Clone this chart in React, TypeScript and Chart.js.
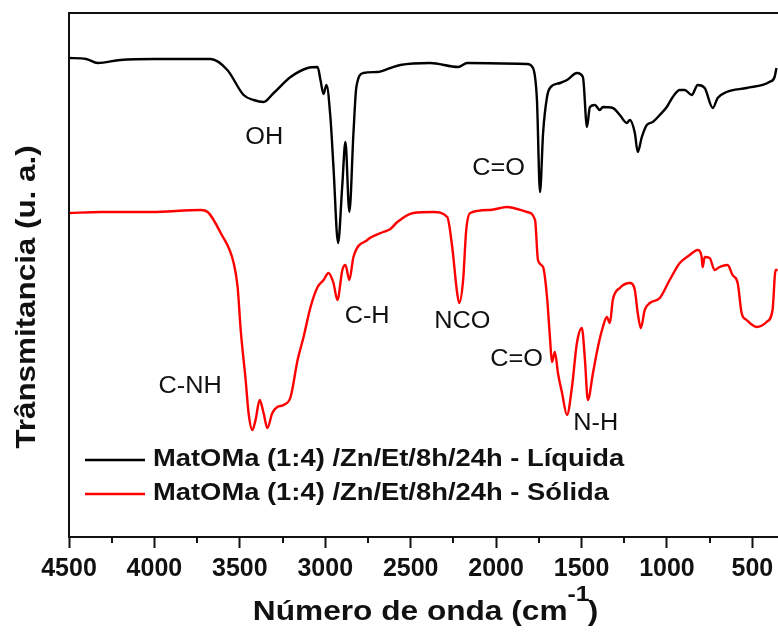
import React, { useEffect, useRef } from 'react';
import { Chart, registerables } from 'chart.js';

Chart.register(...registerables);

// ---------- data (wavenumber in cm-1, transmittance in arbitrary units) ----------
const LIQ_LABEL = 'MatOMa (1:4) /Zn/Et/8h/24h - Líquida';
const LIQ_WN = [4500, 4400, 4332, 4200, 4000, 3800, 3671, 3573, 3478, 3419, 3361, 3302, 3203, 3103, 3045, 3028, 3010, 2993, 2970, 2952, 2925, 2901, 2882, 2859, 2835, 2818, 2777, 2695, 2619, 2561, 2386, 2222, 2169, 1819, 1784, 1761, 1743, 1725, 1702, 1685, 1626, 1585, 1527, 1492, 1468, 1451, 1422, 1393, 1375, 1317, 1276, 1235, 1217, 1188, 1171, 1147, 1118, 1083, 1042, 1001, 966, 925, 896, 855, 820, 779, 732, 703, 651, 534, 400, 370, 359];
const LIQ_T = [479, 478, 474, 477, 478, 478, 478, 467, 442, 437, 435, 444, 460, 469, 470, 457, 443, 452, 420, 370, 294, 350, 395, 325, 404, 450, 464, 465, 469, 472, 474, 470, 474, 473, 469, 437, 345, 404, 440, 449, 454, 457, 464, 460, 410, 430, 432, 427, 430, 429, 422, 414, 417, 404, 385, 400, 412, 415, 422, 430, 440, 447, 447, 442, 452, 449, 429, 439, 445, 449, 455, 460, 469];

const SOL_LABEL = 'MatOMa (1:4) /Zn/Et/8h/24h - Sólida';
const SOL_WN = [4500, 4313, 4021, 3729, 3688, 3612, 3536, 3513, 3495, 3466, 3449, 3427, 3408, 3384, 3361, 3339, 3310, 3281, 3244, 3203, 3162, 3127, 3086, 3045, 3010, 2981, 2952, 2929, 2900, 2882, 2859, 2835, 2754, 2660, 2619, 2578, 2485, 2368, 2286, 2257, 2228, 2216, 2193, 2175, 2152, 2035, 1936, 1819, 1772, 1755, 1725, 1702, 1685, 1673, 1656, 1638, 1614, 1585, 1556, 1527, 1498, 1480, 1463, 1433, 1404, 1375, 1352, 1334, 1317, 1276, 1217, 1188, 1171, 1153, 1130, 1100, 1042, 984, 925, 867, 820, 797, 791, 779, 750, 721, 692, 645, 616, 586, 563, 534, 475, 417, 382, 364, 352];
const SOL_T = [324, 325, 325, 327, 325, 304, 274, 250, 207, 157, 124, 107, 117, 137, 124, 109, 124, 130, 132, 140, 177, 200, 230, 250, 257, 264, 254, 237, 267, 272, 257, 280, 297, 305, 308, 315, 324, 325, 320, 290, 244, 234, 257, 307, 324, 327, 330, 325, 317, 277, 270, 240, 200, 175, 185, 164, 144, 122, 150, 194, 209, 177, 137, 164, 190, 210, 220, 214, 237, 249, 254, 247, 224, 209, 227, 234, 239, 257, 274, 282, 287, 280, 270, 280, 279, 267, 270, 272, 262, 254, 224, 217, 210, 215, 227, 267, 267];

const X_MIN = 350;
const X_MAX = 4500;
const Y_MIN = 0;
const Y_MAX = 524;
const X_TICKS = [4500, 4250, 4000, 3750, 3500, 3250, 3000, 2750, 2500, 2250, 2000, 1750, 1500, 1250, 1000, 750, 500];
const X_LABEL_STEP = 500;

// peak labels, anchored in data coordinates
const PEAK_TEXT = ['OH', 'C=O', 'C-H', 'C-NH', 'NCO', 'C=O', 'N-H'];
const PEAK_WN = [3357, 1985, 2755, 3791, 2198, 1880, 1417];
const PEAK_T = [399, 368, 220, 150, 215, 177, 113];

const X_TITLE_MAIN = 'Número de onda (cm';
const X_TITLE_SUP = '-1';
const X_TITLE_END = ')';
const Y_TITLE = 'Trânsmitancia (u. a.)';

const FONT = '"Liberation Sans", Arial, Helvetica, sans-serif';

function drawStretched(
  ctx: CanvasRenderingContext2D,
  text: string,
  x: number,
  y: number,
  font: string,
  sx: number,
  align: 'left' | 'center',
  baseline: CanvasTextBaseline
) {
  ctx.save();
  ctx.font = font;
  ctx.textAlign = 'left';
  ctx.textBaseline = baseline;
  const w = ctx.measureText(text).width * sx;
  const x0 = align === 'center' ? x - w / 2 : x;
  ctx.translate(x0, y);
  ctx.scale(sx, 1);
  ctx.fillText(text, 0, 0);
  ctx.restore();
  return w;
}

const decorPlugin = {
  id: 'decor',
  afterDatasetsDraw(chart: any) {
    const ctx: CanvasRenderingContext2D = chart.ctx;
    const { left, right, top, bottom } = chart.chartArea;
    const xs = chart.scales.x;
    const ys = chart.scales.y;
    ctx.save();
    ctx.fillStyle = '#111';
    ctx.strokeStyle = '#111';

    // frame (top, left, bottom)
    ctx.lineWidth = 2;
    ctx.beginPath();
    ctx.moveTo(right + 2, top);
    ctx.lineTo(left, top);
    ctx.lineTo(left, bottom);
    ctx.lineTo(right + 2, bottom);
    ctx.stroke();

    // minor ticks
    ctx.lineWidth = 2;
    X_TICKS.forEach((v) => {
      if (v % X_LABEL_STEP === 0) return;
      const px = Math.round(xs.getPixelForValue(v));
      ctx.beginPath();
      ctx.moveTo(px, bottom);
      ctx.lineTo(px, bottom + 6);
      ctx.stroke();
    });

    // peak labels
    PEAK_TEXT.forEach((t, i) => {
      drawStretched(ctx, t, xs.getPixelForValue(PEAK_WN[i]), ys.getPixelForValue(PEAK_T[i]), `23px ${FONT}`, 1.1, 'center', 'middle');
    });

    // legend
    const legendRows = [
      { label: chart.data.datasets[0].label, color: chart.data.datasets[0].borderColor, y: 459 },
      { label: chart.data.datasets[1].label, color: chart.data.datasets[1].borderColor, y: 493 },
    ];
    legendRows.forEach((r) => {
      ctx.strokeStyle = r.color;
      ctx.lineWidth = 2.4;
      ctx.beginPath();
      ctx.moveTo(85, r.y + 1);
      ctx.lineTo(145, r.y + 1);
      ctx.stroke();
      ctx.fillStyle = '#111';
      drawStretched(ctx, r.label, 153, r.y, `bold 24px ${FONT}`, 1.14, 'left', 'middle');
    });

    // x title with superscript
    ctx.fillStyle = '#111';
    ctx.font = `bold 28px ${FONT}`;
    const sx = 1.13;
    const wMain = ctx.measureText(X_TITLE_MAIN).width * sx;
    const wEnd = ctx.measureText(X_TITLE_END).width * sx;
    ctx.font = `bold 22px ${FONT}`;
    const wSup = ctx.measureText(X_TITLE_SUP).width * sx;
    const total = wMain + wSup + wEnd;
    let cx = (left + right) / 2 + 3 - total / 2;
    const base = 620;
    cx += drawStretched(ctx, X_TITLE_MAIN, cx, base, `bold 28px ${FONT}`, sx, 'left', 'alphabetic');
    cx += drawStretched(ctx, X_TITLE_SUP, cx, base - 19, `bold 22px ${FONT}`, sx, 'left', 'alphabetic') - 2;
    drawStretched(ctx, X_TITLE_END, cx, base, `bold 28px ${FONT}`, sx, 'left', 'alphabetic');

    // y title (rotated)
    ctx.save();
    ctx.translate(35, 297);
    ctx.rotate(-Math.PI / 2);
    drawStretched(ctx, Y_TITLE, 0, 0, `bold 28px ${FONT}`, 1.12, 'center', 'alphabetic');
    ctx.restore();

    ctx.restore();
  },
};

export default function App() {
  const canvasRef = useRef<HTMLCanvasElement | null>(null);

  useEffect(() => {
    if (!canvasRef.current) return;
    const toPoints = (xs: number[], ys: number[]) => xs.map((x, i) => ({ x, y: ys[i] }));
    const chart = new Chart(canvasRef.current, {
      type: 'line',
      data: {
        datasets: [
          {
            label: LIQ_LABEL,
            data: toPoints(LIQ_WN, LIQ_T),
            borderColor: '#000000',
            borderWidth: 2.4,
            pointRadius: 0,
            fill: false,
            cubicInterpolationMode: 'monotone',
          },
          {
            label: SOL_LABEL,
            data: toPoints(SOL_WN, SOL_T),
            borderColor: '#ff0000',
            borderWidth: 2.4,
            pointRadius: 0,
            fill: false,
            cubicInterpolationMode: 'monotone',
          },
        ],
      },
      options: {
        responsive: false,
        animation: false,
        devicePixelRatio: 1,
        layout: { padding: { top: 13, left: 69, right: 0, bottom: 0 } },
        plugins: {
          legend: { display: false },
          title: { display: false },
          tooltip: { enabled: false },
        },
        scales: {
          x: {
            type: 'linear',
            reverse: true,
            min: X_MIN,
            max: X_MAX,
            afterBuildTicks: (axis: any) => {
              axis.ticks = X_TICKS.map((v) => ({ value: v }));
            },
            afterFit: (axis: any) => {
              axis.height = 98;
              axis.paddingLeft = 0;
              axis.paddingRight = 0;
            },
            border: { display: false },
            grid: {
              drawOnChartArea: false,
              drawTicks: true,
              tickLength: 11,
              tickWidth: 2,
              tickColor: (c: any) => (c.tick && c.tick.value % X_LABEL_STEP === 0 ? '#111' : 'rgba(0,0,0,0)'),
            },
            ticks: {
              autoSkip: false,
              maxRotation: 0,
              padding: 6,
              color: '#111',
              font: { family: FONT, size: 25, weight: 'bold' },
              callback: (v: any) => (Number(v) % X_LABEL_STEP === 0 ? String(v) : ''),
            },
          },
          y: {
            type: 'linear',
            display: false,
            min: Y_MIN,
            max: Y_MAX,
          },
        },
      },
      plugins: [decorPlugin],
    } as any);
    return () => chart.destroy();
  }, []);

  return (
    <div style={{ position: 'fixed', left: 0, top: 0, width: 778, height: 635, background: '#fff' }}>
      <canvas ref={canvasRef} width={778} height={635} style={{ width: 778, height: 635, display: 'block' }} />
    </div>
  );
}
